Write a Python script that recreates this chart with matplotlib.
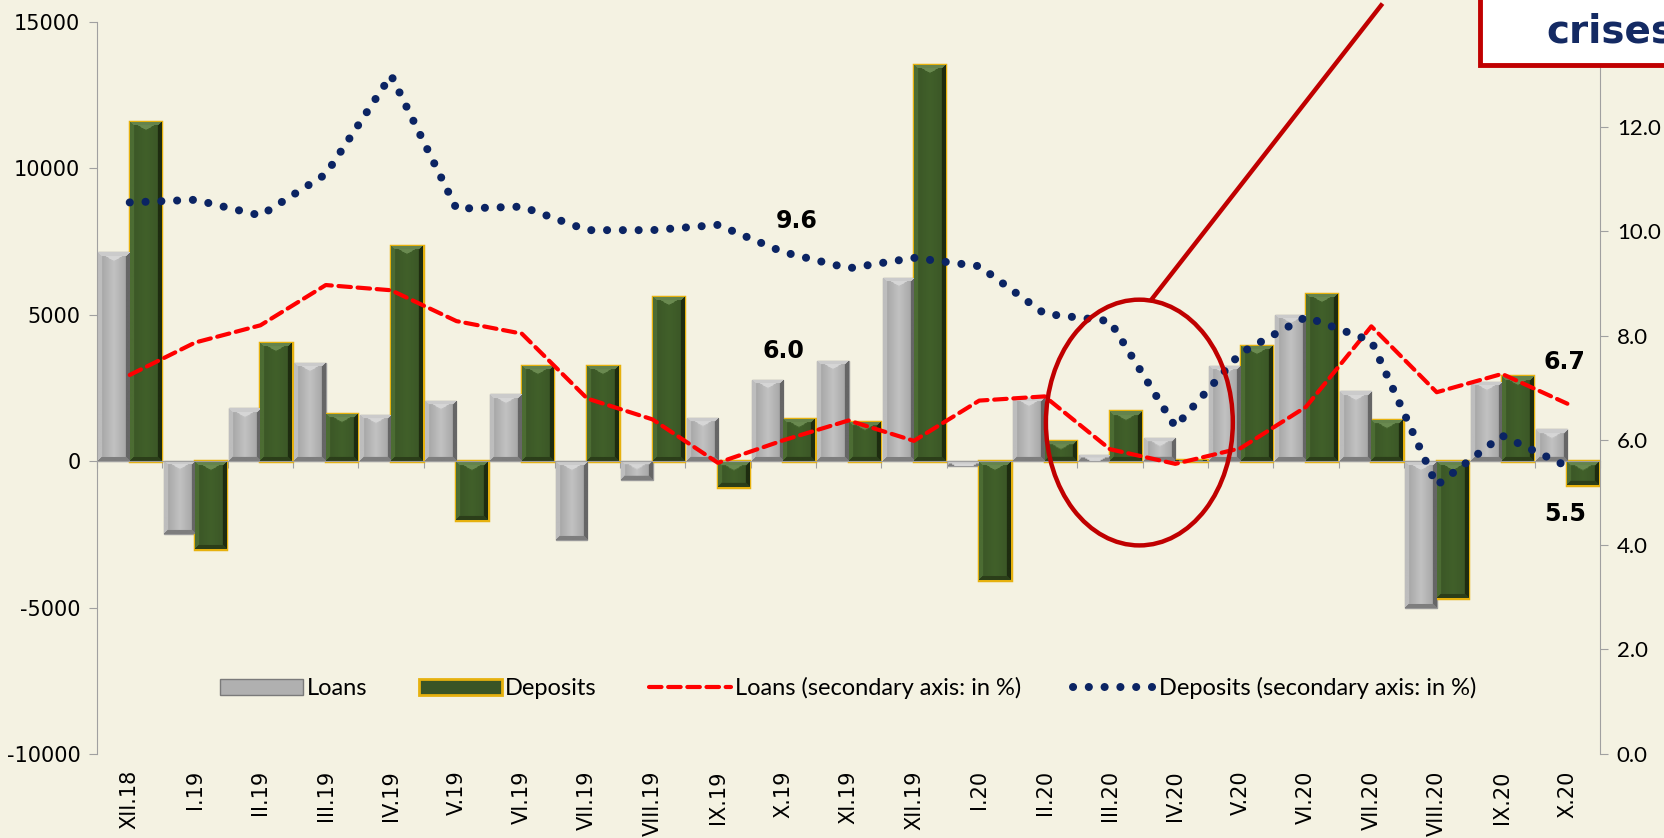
import numpy as np
import matplotlib
matplotlib.use('Agg')
import matplotlib.pyplot as plt
from matplotlib.patches import Ellipse, Rectangle, Patch
from matplotlib.lines import Line2D

plt.rcParams['axes.unicode_minus'] = False

# data
months = ['XII.18', 'I.19', 'II.19', 'III.19', 'IV.19', 'V.19', 'VI.19', 'VII.19',
          'VIII.19', 'IX.19', 'X.19', 'XI.19', 'XII.19', 'I.20', 'II.20', 'III.20',
          'IV.20', 'V.20', 'VI.20', 'VII.20', 'VIII.20', 'IX.20', 'X.20']
loans = [7130, -2500, 1810, 3370, 1590, 2060, 2280, -2680, -650, 1480, 2790, 3440,
         6260, -150, 2170, 220, 800, 3260, 5000, 2390, -5000, 2715, 1090]
deposits = [11580, -3000, 4050, 1630, 7350, -1990, 3260, 3260, 5610, -870, 1450, 1340,
            13540, -4050, 690, 1700, 50, 3950, 5720, 1410, -4670, 2900, -800]
loans_pct = [7.25, 7.87, 8.2, 8.97, 8.87, 8.28, 8.04, 6.8, 6.4, 5.57, 6.0, 6.38,
             5.99, 6.76, 6.84, 5.83, 5.55, 5.85, 6.64, 8.18, 6.92, 7.27, 6.7]
deposits_pct = [10.55, 10.6, 10.3, 11.09, 12.98, 10.43, 10.47, 10.02, 10.02, 10.12, 9.6, 9.29,
                9.49, 9.33, 8.42, 8.28, 6.26, 7.67, 8.36, 7.9, 5.14, 6.09, 5.5]

bg = '#F4F2E2'
grey = '#A0A0A0'
red = '#FF0000'
navy = '#0B2463'
dark_red = '#C00000'

fig = plt.figure(figsize=(16.65, 8.38), dpi=100, facecolor=bg)
ax = fig.add_axes([0.0583, 0.1002, 0.9027, 0.8735])
ax.set_facecolor(bg)

x = np.arange(len(months))
w = 0.48
bars_l = ax.bar(x - w / 2, loans, w, color='#A9A9A9', edgecolor='#9a9a9a', linewidth=1, zorder=2)
bars_d = ax.bar(x + w / 2, deposits, w, color='#3A5424', edgecolor='#E6B10E', linewidth=2.5, zorder=2)

ax.set_xlim(-0.5, len(months) - 0.5)
ax.set_ylim(-10000, 15000)


def bevel(bars, face, center, top, left, right, bottom):
    # fake the excel bevel look with a small image clipped to each bar
    face, center, top, left, right, bottom = [np.array(matplotlib.colors.to_rgb(c)) for c in
                                              (face, center, top, left, right, bottom)]
    for p in bars:
        x0, y0 = p.get_x(), p.get_y()
        bw, bh = p.get_width(), p.get_height()
        (px0, py0), (px1, py1) = ax.transData.transform([(x0, y0), (x0 + bw, y0 + bh)])
        nw = max(int(abs(px1 - px0)), 2)
        nh = max(int(abs(py1 - py0)), 2)
        jj, ii = np.meshgrid(np.arange(nw), np.arange(nh))
        t = np.abs(jj - (nw - 1) / 2) / ((nw - 1) / 2)
        img = center[None, None, :] * (1 - t[..., None]) + face[None, None, :] * t[..., None]
        b = 4
        dl, dr, dt, db = jj, nw - 1 - jj, ii, nh - 1 - ii
        m = np.minimum(np.minimum(dl, dr), np.minimum(dt, db))
        img[(m < b) & (dl == m)] = left
        img[(m < b) & (dr == m)] = right
        img[(m < b) & (db == m)] = bottom
        tri = ii < np.minimum(jj, nw - 1 - jj) * 0.55
        img[tri & (dl >= b) & (dr >= b)] = top
        img[(m < b) & (dt == m)] = top * 0.95
        im = ax.imshow(img, extent=(x0, x0 + bw, min(y0, y0 + bh), max(y0, y0 + bh)),
                       origin='upper', aspect='auto', interpolation='bilinear', zorder=2.5)
        im.set_clip_path(p)


bevel(bars_l, '#A0A0A0', '#C2C2C2', '#D6D6D6', '#BDBDBD', '#666666', '#7E7E7E')
bevel(bars_d, '#3A5526', '#41602A', '#6A8A50', '#4C6C33', '#1E2C10', '#2B3E19')

ax.set_xlim(-0.5, len(months) - 0.5)
ax.set_ylim(-10000, 15000)

# axes styling
for s in ['top', 'right']:
    ax.spines[s].set_visible(False)
ax.spines['left'].set_color(grey)
ax.spines['bottom'].set_position(('data', 0))
ax.spines['bottom'].set_color(grey)
ax.set_xticks(np.arange(-0.5, len(months), 1))
ax.tick_params(axis='x', length=5, color=grey, labelbottom=False)
ax.set_yticks([-10000, -5000, 0, 5000, 10000, 15000])
ax.tick_params(axis='y', length=6, color=grey, labelsize=15, pad=6)
for lab in ax.get_yticklabels():
    lab.set_family('DejaVu Sans')

for i, m in enumerate(months):
    ax.text(i, -0.022, m, transform=ax.get_xaxis_transform(), rotation=90,
            ha='center', va='top', fontsize=15, family='DejaVu Sans')

# secondary axis with the growth rates
ax2 = ax.twinx()
ax2.set_ylim(0, 14)
ax2.set_yticks(np.arange(0, 13, 2))
ax2.set_yticklabels([f'{v:.1f}' for v in np.arange(0, 13, 2)])
ax2.tick_params(axis='y', length=6, color=grey, labelsize=16, pad=6)
for lab in ax2.get_yticklabels():
    lab.set_family('Lato')
for s in ['top', 'left', 'bottom']:
    ax2.spines[s].set_visible(False)
ax2.spines['right'].set_color(grey)

ax2.plot(x, loans_pct, color=red, lw=3, linestyle=(0, (3, 1.6)),
         dash_capstyle='round', zorder=3)
ax2.plot(x, deposits_pct, color=navy, lw=5.8, linestyle=(0, (0.01, 1.95)),
         dash_capstyle='round', zorder=3)

# value labels
lab_kw = dict(fontsize=17, fontweight='bold', ha='center', va='center')
ax2.text(10.2, deposits_pct[10] + 0.6, f'{deposits_pct[10]:.1f}', **lab_kw)
ax2.text(10.0, loans_pct[10] + 1.7, f'{loans_pct[10]:.1f}', **lab_kw)
ax2.text(21.96, loans_pct[22] + 0.8, f'{loans_pct[22]:.1f}', **lab_kw)
ax2.text(21.96, deposits_pct[22] - 0.9, f'{deposits_pct[22]:.1f}', **lab_kw)

# highlight of the covid dip
ax2.add_patch(Ellipse((15.45, 6.34), 2.86, 4.7, fill=False, edgecolor=dark_red, lw=3.2, zorder=4))
ax2.plot([15.64, 19.15], [8.70, 14.32], color=dark_red, lw=3.2, clip_on=False, zorder=4)

# box in the corner, text runs off the edge as in the original
fig.patches.append(Rectangle((0.889, 0.922), 0.2, 0.12, transform=fig.transFigure,
                             facecolor='white', edgecolor=dark_red, lw=3.5, zorder=5))
fig.text(0.929, 0.962, 'crises', color='#142A63', fontsize=28, fontweight='bold',
         ha='left', va='center', zorder=6)

handles = [Patch(facecolor='#B0B0B0', edgecolor='#7a7a7a', lw=1),
           Patch(facecolor='#3A5526', edgecolor='#E6B10E', lw=2),
           Line2D([], [], color=red, lw=3, linestyle=(0, (3, 1.6)), dash_capstyle='round'),
           Line2D([], [], color=navy, lw=5.8, linestyle=(0, (0.01, 1.95)), dash_capstyle='round')]
labels = ['Loans', 'Deposits', 'Loans (secondary axis: in %)', 'Deposits (secondary axis: in %)']
ax2.legend(handles, labels, loc='center', bbox_to_anchor=(0.5, 0.09), ncol=4, frameon=False,
           prop={'family': 'Lato', 'size': 17}, handlelength=3.5, columnspacing=2.2,
           handletextpad=0.15)

fig.savefig('out.png', dpi=100, facecolor=bg)
